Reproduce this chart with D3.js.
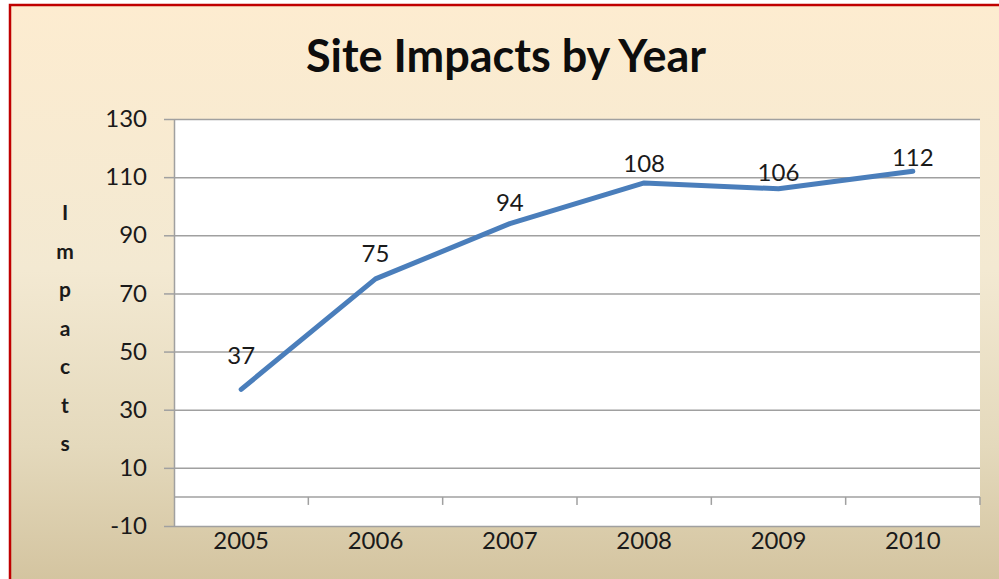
<!DOCTYPE html>
<html>
<head>
<meta charset="utf-8">
<script src="https://cdn.jsdelivr.net/npm/d3@7"></script>
<style>
  html, body { margin: 0; padding: 0; background: #fff; }
  svg { display: block; font-family: Lato, "Open Sans", sans-serif; }
</style>
</head>
<body>
<div id="chart"></div>
<script>
// chart values
const years = ['2005', '2006', '2007', '2008', '2009', '2010'];
const impacts = [37, 75, 94, 108, 106, 112];
const yTicks = [-10, 10, 30, 50, 70, 90, 110, 130];
const axisTitle = 'Impacts';

// labels were hand placed in the original, so each sits a little differently
const labelLift = [25, 17, 13, 11, 8, 5];

const width = 999, height = 579;
const margin = { top: 119, right: 19, bottom: 53, left: 174 };

const svg = d3.select('#chart').append('svg')
    .attr('width', width)
    .attr('height', height);

// parchment background
const grad = svg.append('defs').append('linearGradient')
    .attr('id', 'bg').attr('x1', 0).attr('y1', 0).attr('x2', 0).attr('y2', 1);
grad.append('stop').attr('offset', 0).attr('stop-color', '#fdecd0');
grad.append('stop').attr('offset', 0.45).attr('stop-color', '#f3e9d2');
grad.append('stop').attr('offset', 0.75).attr('stop-color', '#e4d9bc');
grad.append('stop').attr('offset', 1).attr('stop-color', '#d2c29d');

svg.append('rect')
    .attr('x', 10).attr('y', 5)
    .attr('width', width + 10).attr('height', height + 10)
    .attr('fill', 'url(#bg)')
    .attr('stroke', '#c00000')
    .attr('stroke-width', 2.5);

const x = d3.scaleBand()
    .domain(years)
    .range([margin.left, width - margin.right]);

const y = d3.scaleLinear()
    .domain([-10, 130])
    .range([height - margin.bottom, margin.top]);

// plot area
svg.append('rect')
    .attr('x', margin.left)
    .attr('y', margin.top)
    .attr('width', width - margin.right - margin.left)
    .attr('height', height - margin.bottom - margin.top)
    .attr('fill', '#fff');

// y axis with gridlines
const yAxis = svg.append('g')
    .attr('transform', `translate(${margin.left},0)`)
    .call(d3.axisLeft(y).tickValues(yTicks).tickSize(10).tickPadding(17)
        .tickSizeOuter(0).tickFormat(d => String(d)));
yAxis.select('.domain').attr('stroke', '#a0a0a0').attr('stroke-width', 1.5);
yAxis.selectAll('.tick line').attr('stroke', '#a0a0a0').attr('stroke-width', 1.5)
    .clone()
    .attr('x1', 0)
    .attr('x2', width - margin.right - margin.left);
yAxis.selectAll('.tick text')
    .attr('fill', '#1a1a1a')
    .style('font-size', '24px')
    .style('font-family', 'Lato, sans-serif');

// category axis crosses at zero
const xAxis = svg.append('g')
    .attr('transform', `translate(0,${y(0)})`);
xAxis.append('line')
    .attr('x1', margin.left).attr('x2', width - margin.right)
    .attr('stroke', '#a0a0a0').attr('stroke-width', 1.5);
xAxis.selectAll('.cat-tick')
    .data(years)
    .enter()
    .append('line')
    .attr('x1', d => x(d) + x.bandwidth())
    .attr('x2', d => x(d) + x.bandwidth())
    .attr('y1', 0).attr('y2', 8)
    .attr('stroke', '#a0a0a0').attr('stroke-width', 1.5);

svg.selectAll('.year-label')
    .data(years)
    .enter()
    .append('text')
    .attr('x', d => x(d) + x.bandwidth() / 2)
    .attr('y', height - margin.bottom + 23)
    .attr('text-anchor', 'middle')
    .style('font-size', '24px')
    .attr('fill', '#1a1a1a')
    .text(d => d);

// the line
const line = d3.line()
    .x((d, i) => x(years[i]) + x.bandwidth() / 2)
    .y(d => y(d));

svg.append('path')
    .datum(impacts)
    .attr('d', line)
    .attr('fill', 'none')
    .attr('stroke', '#4a7ebb')
    .attr('stroke-width', 5)
    .attr('stroke-linejoin', 'round')
    .attr('stroke-linecap', 'round');

// data labels
svg.selectAll('.value-label')
    .data(impacts)
    .enter()
    .append('text')
    .attr('x', (d, i) => x(years[i]) + x.bandwidth() / 2)
    .attr('y', (d, i) => y(d) - labelLift[i])
    .attr('text-anchor', 'middle')
    .style('font-size', '24px')
    .attr('fill', '#1a1a1a')
    .text(d => d);

// title
svg.append('text')
    .attr('x', 506)
    .attr('y', 72)
    .attr('text-anchor', 'middle')
    .style('font-size', '45px')
    .style('font-weight', 'bold')
    .attr('fill', '#0d0d0d')
    .text('Site Impacts by Year');

// stacked axis title
svg.append('text')
    .attr('text-anchor', 'middle')
    .style('font-size', '21px')
    .style('font-weight', 'bold')
    .attr('fill', '#1a1a1a')
    .selectAll('tspan')
    .data(axisTitle.split(''))
    .enter()
    .append('tspan')
    .attr('x', 65)
    .attr('y', (d, i) => 220 + i * 38.5)
    .text(d => d);
</script>
</body>
</html>
